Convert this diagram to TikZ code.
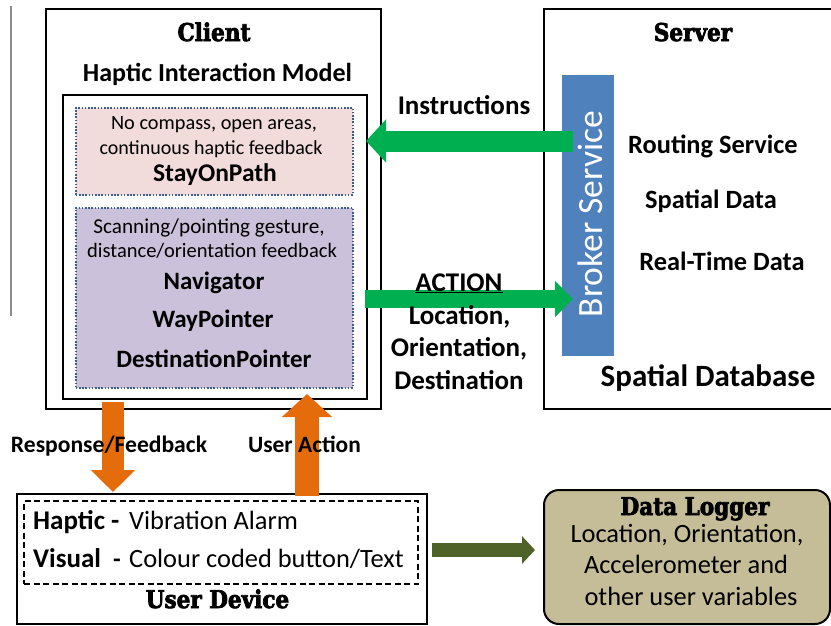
\documentclass[tikz,border=0pt]{standalone}
\usepackage{fontspec}
\usepackage{graphicx}
\setmainfont{Carlito}
\newfontfamily\heavyfont{DejaVu Serif}[FakeStretch=0.88, BoldFeatures={FakeBold=3}]
\usetikzlibrary{arrows.meta}
\definecolor{pinkfill}{HTML}{F2DCDB}
\definecolor{purplefill}{HTML}{CCC1DA}
\definecolor{dotblue}{HTML}{385D8A}
\definecolor{brokerblue}{HTML}{4F81BD}
\definecolor{arrowgreen}{HTML}{00B050}
\definecolor{arroworange}{HTML}{E46C0A}
\definecolor{arrowolive}{HTML}{4F6228}
\definecolor{loggerfill}{HTML}{C4BD97}
\definecolor{sidegray}{HTML}{8C8C8C}
\newcommand\myfs[1]{\fontsize{#1}{#1}\selectfont}
\begin{document}
\begin{tikzpicture}[x=1pt,y=-1pt,
  box/.style={draw=black, line width=2pt, inner sep=0pt, anchor=north west},
  dotbox/.style={draw=dotblue, line width=1.6pt, dash pattern=on 1.6pt off 1.6pt, inner sep=0pt, anchor=north west},
  txt/.style={inner sep=0pt, anchor=base},
  txtw/.style={inner sep=0pt, anchor=base west},
  title/.style={txt, font=\heavyfont\bfseries\myfs{24.5}},
]
\useasboundingbox (0,0) rectangle (831,625);

% side gray line
\draw[sidegray, line width=1.8pt] (11,6) -- (11,316);

% Client
\node[box, minimum width=335pt, minimum height=400pt] (client) at (45,8) {};
\node[title] (clienttitle) at (214,41) {Client};
\node[txt, font=\bfseries\myfs{26}] (him) at (217.5,81) {Haptic Interaction Model};
\node[box, minimum width=304pt, minimum height=304pt] (inner) at (62,94) {};
\node[dotbox, fill=pinkfill, minimum width=277pt, minimum height=87pt] (pinkbox) at (75,107) {};
\node[dotbox, fill=purplefill, minimum width=277pt, minimum height=180pt] (purplebox) at (75,207) {};
\node[txt, font=\myfs{20.3}] (p1) at (214,129) {No compass, open areas,};
\node[txt, font=\myfs{20}] (p2) at (211,154) {continuous haptic feedback};
\node[txt, font=\bfseries\myfs{25.5}] (p3) at (215,181) {StayOnPath};
\node[txt, font=\myfs{21.2}] (q1) at (209,233) {Scanning/pointing gesture,};
\node[txt, font=\myfs{20.5}] (q2) at (212,257) {distance/orientation feedback};
\node[txt, font=\bfseries\myfs{25}] (q3) at (214,289) {Navigator};
\node[txt, font=\bfseries\myfs{25}] (q4) at (213,327) {WayPointer};
\node[txt, font=\bfseries\myfs{25}] (q5) at (214,367) {DestinationPointer};

% Server
\node[box, minimum width=290pt, minimum height=400pt] (server) at (543,8) {};
\node[title] (servertitle) at (693,41) {Server};
\node[inner sep=0pt, anchor=north west, fill=brokerblue, minimum width=52pt, minimum height=281pt] (broker) at (562,75) {};
\node[inner sep=0pt, anchor=base, rotate=90, text=white, font=\myfs{35.5}] (brokertext) at (602,214) {Broker Service};
\node[txt, font=\bfseries\myfs{26.4}] (s1) at (713,153) {Routing Service};
\node[txt, font=\bfseries\myfs{26.4}] (s2) at (711,208) {Spatial Data};
\node[txt, font=\bfseries\myfs{26.4}] (s3) at (722,270) {Real-Time Data};
\node[txt, font=\bfseries\myfs{31}] (s4) at (708,386) {Spatial Database};

% green arrows
\coordinate (instrStart) at (573,141);
\coordinate (instrTip) at (366,141);
\coordinate (actStart) at (365,299);
\coordinate (actTip) at (573,299);
\draw[line width=21pt, arrowgreen, -{Triangle[length=20pt, width=42pt, fill=arrowgreen]}] (instrStart) -- (instrTip);
\draw[line width=18pt, arrowgreen, -{Triangle[length=18pt, width=35pt, fill=arrowgreen]}] (actStart) -- (actTip);
\node[txt, font=\bfseries\myfs{27}] (instr) at (464,114) {Instructions};
\node[txt, font=\bfseries\myfs{27}] (act) at (459,291) {\underline{ACTION}};
\node[txt, font=\bfseries\myfs{27}] (a1) at (459.5,324) {Location,};
\node[txt, font=\bfseries\myfs{27}] (a2) at (459,356) {Orientation,};
\node[txt, font=\bfseries\myfs{27}] (a3) at (459,389) {Destination};

% User device
\node[box, minimum width=410pt, minimum height=130pt] (device) at (16,493) {};
\node[draw=black, line width=2pt, dash pattern=on 6pt off 3.5pt, inner sep=0pt, anchor=north west, minimum width=394pt, minimum height=83pt] (devdash) at (23,500) {};
\node[txtw, font=\bfseries\myfs{27}] (h1) at (33,529) {Haptic -};
\node[txtw, font=\myfs{26.4}] (h2) at (129,529) {Vibration Alarm};
\node[txtw, font=\bfseries\myfs{27}] (v1) at (33,567) {Visual};
\node[txtw, font=\bfseries\myfs{25}] (v2) at (113,567) {-};
\node[txtw, font=\myfs{26.4}] (v3) at (129,567) {Colour coded button/Text};
\node[title] (devtitle) at (217.5,608) {User Device};

% orange arrows
\coordinate (downStart) at (113,402);
\coordinate (downTip) at (113,492);
\coordinate (upStart) at (307,496);
\coordinate (upTip) at (307,394);
\draw[line width=22pt, arroworange, -{Triangle[length=22pt, width=43pt, fill=arroworange]}] (downStart) -- (downTip);
\draw[line width=24pt, arroworange, -{Triangle[length=23pt, width=49pt, fill=arroworange]}] (upStart) -- (upTip);
\node[txt, font=\bfseries\myfs{23.6}] (resp) at (109,452) {Response/Feedback};
\node[txt, font=\bfseries\myfs{23.4}] (ua) at (304.5,452) {User Action};

% data logger
\node[draw=black, line width=2pt, fill=loggerfill, rounded corners=15pt, inner sep=0pt, anchor=north west, minimum width=286pt, minimum height=134pt] (logger) at (543,489) {};
\node[title] (logtitle) at (695,515) {Data Logger};
\node[txt, font=\myfs{26.4}] (l1) at (687,542) {Location, Orientation,};
\node[txt, font=\myfs{26.4}] (l2) at (686,573) {Accelerometer and};
\node[txt, font=\myfs{26.4}] (l3) at (691,605) {other user variables};

\coordinate (logStart) at (432,550);
\coordinate (logTip) at (535,550);
\draw[line width=14pt, arrowolive, -{Triangle[length=13pt, width=27pt, fill=arrowolive]}] (logStart) -- (logTip);
\end{tikzpicture}
\end{document}
